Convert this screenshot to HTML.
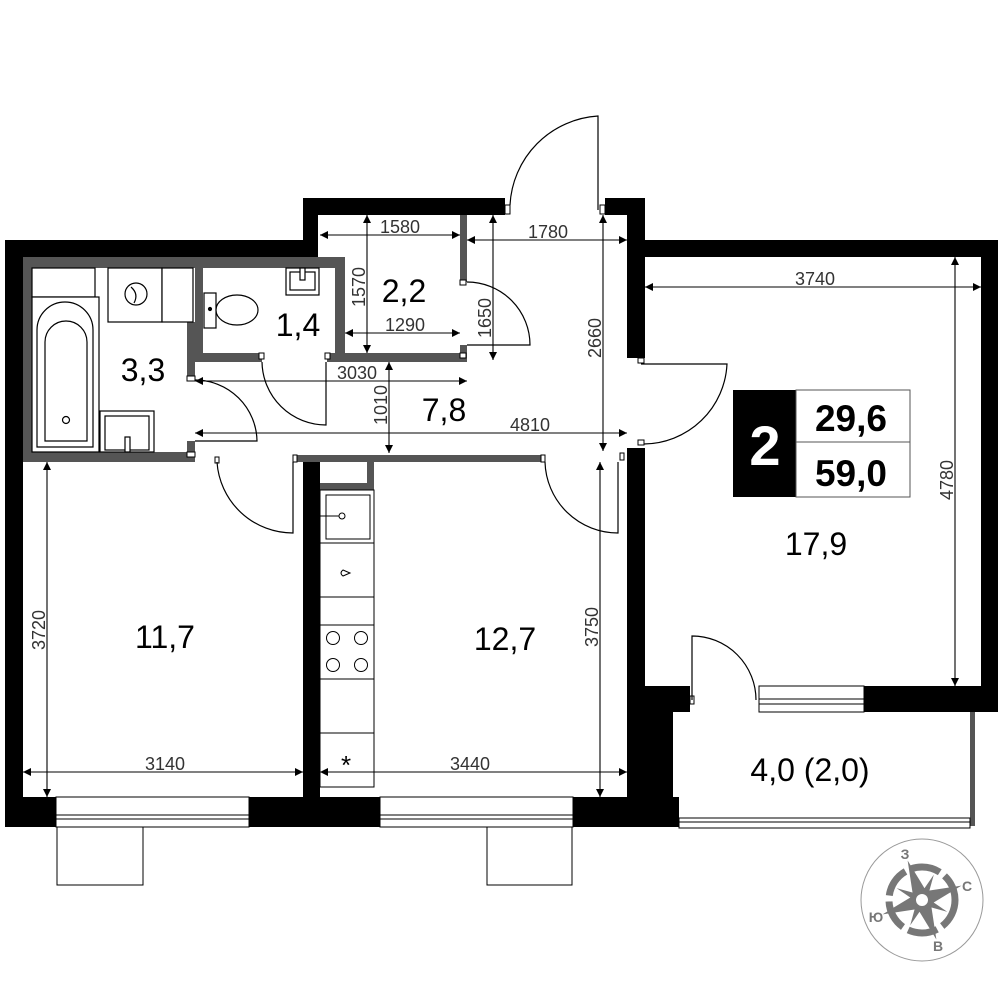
<!DOCTYPE html>
<html><head><meta charset="utf-8"><style>
html,body{margin:0;padding:0;background:#fff;}
svg{display:block;}
text{font-family:"Liberation Sans","DejaVu Sans",sans-serif;}
</style></head><body>
<svg width="1000" height="1000" viewBox="0 0 1000 1000" xmlns="http://www.w3.org/2000/svg">
<defs>
<marker id="a" viewBox="0 0 10 10" refX="10" refY="5" markerWidth="16" markerHeight="8" markerUnits="userSpaceOnUse" orient="auto-start-reverse"><path d="M0,0 L10,5 L0,10 z" fill="#000"/></marker>
</defs>
<rect width="1000" height="1000" fill="#fff"/>

<g fill="#000">
<rect x="5" y="240" width="313" height="17"/>
<rect x="5" y="240" width="18" height="587"/>
<rect x="303" y="198" width="15" height="59"/>
<rect x="303" y="198" width="202" height="17"/>
<rect x="605" y="198" width="40" height="17"/>
<rect x="627" y="198" width="18" height="160"/>
<rect x="627" y="240" width="371" height="17"/>
<rect x="981" y="240" width="17" height="472"/>
<rect x="627" y="448" width="18" height="379"/>
<rect x="644" y="686" width="46" height="26"/>
<rect x="644" y="686" width="29" height="141"/>
<rect x="864" y="686" width="134" height="26"/>
<rect x="5" y="797" width="51" height="30"/>
<rect x="249" y="797" width="131" height="30"/>
<rect x="573" y="797" width="106" height="30"/>
<rect x="303" y="461" width="17" height="366"/>
</g>

<g fill="#555">
<rect x="23" y="257" width="322" height="11"/>
<rect x="23" y="257" width="10" height="205"/>
<rect x="23" y="452" width="172" height="10"/>
<rect x="195" y="257" width="8" height="105"/>
<rect x="187" y="322" width="16" height="40"/>
<rect x="187" y="362" width="8" height="18"/>
<rect x="187" y="441" width="8" height="12"/>
<rect x="203" y="353" width="59" height="9"/>
<rect x="327" y="353" width="140" height="9"/>
<rect x="335" y="257" width="10" height="105"/>
<rect x="460" y="215" width="7" height="67"/>
<rect x="460" y="345" width="7" height="10"/>
<rect x="297" y="455" width="246" height="7"/>
<rect x="367" y="462" width="7" height="28"/>
<rect x="320" y="483" width="54" height="7"/>
<rect x="970" y="712" width="5" height="114"/>
</g>

<g fill="#fff" stroke="#000" stroke-width="1">
<rect x="187" y="376" width="8" height="5"/>
<rect x="187" y="452" width="8" height="5"/>
<rect x="259" y="353" width="5" height="6"/>
<rect x="325" y="353" width="5" height="6"/>
<rect x="460" y="280" width="6" height="5"/>
<rect x="460" y="353" width="6" height="5"/>
<rect x="215" y="457" width="4" height="6"/>
<rect x="293" y="455" width="4" height="7"/>
<rect x="541" y="455" width="4" height="7"/>
<rect x="620" y="453" width="4" height="7"/>
<rect x="505" y="205" width="5" height="9"/>
<rect x="600" y="205" width="5" height="9"/>
<rect x="638" y="358" width="6" height="5"/>
<rect x="638" y="440" width="6" height="5"/>
<rect x="690" y="696" width="4" height="8"/>
</g>

<g fill="none" stroke="#000" stroke-width="1.2">
<path d="M598,210 L598,116 A94,94 0 0 0 510,205"/>
<path d="M326,362 L326,425 A64,64 0 0 1 262,362"/>
<path d="M195,380 A62,62 0 0 1 257,441 L195,441"/>
<path d="M467,282 A63,63 0 0 1 530,345 L467,345"/>
<path d="M641,364 L727,364 A84,84 0 0 1 644,444"/>
<path d="M217,462 A76,76 0 0 0 293,533 L293,462"/>
<path d="M545,462 A73,73 0 0 0 618,533 L618,462"/>
<path d="M692,700 L692,636 A64,64 0 0 1 756,700"/>
</g>

<g fill="#fff" stroke="#000" stroke-width="1">
<rect x="56" y="797" width="193" height="30"/>
<line x1="56" y1="815" x2="249" y2="815"/><line x1="56" y1="819" x2="249" y2="819"/>
<rect x="380" y="797" width="193" height="30"/>
<line x1="380" y1="815" x2="573" y2="815"/><line x1="380" y1="819" x2="573" y2="819"/>
<rect x="759" y="686" width="105" height="26"/>
<line x1="759" y1="699" x2="864" y2="699"/><line x1="759" y1="704" x2="864" y2="704"/>
<rect x="679" y="818" width="291" height="10"/>
<line x1="679" y1="822" x2="970" y2="822"/>
<rect x="57" y="827" width="86" height="58"/>
<rect x="487" y="827" width="85" height="58"/>
</g>

<g fill="#fff" stroke="#000" stroke-width="1.2">
<rect x="32" y="268" width="63" height="29"/>
<rect x="108" y="268" width="54" height="54"/>
<circle cx="136" cy="294" r="11"/>
<path d="M131,287 Q139,294 134,303"/>
<rect x="162" y="268" width="31" height="54"/>
<rect x="32" y="297" width="67" height="155"/>
<path d="M37,447 L37,330 A28,28 0 0 1 93,330 L93,447 Z"/>
<path d="M45,441 L45,342 A21,21 0 0 1 87,342 L87,441 Z"/>
<circle cx="66" cy="420" r="3.5"/>
<rect x="100" y="411" width="54" height="41"/>
<rect x="105" y="416" width="44" height="34"/>
<rect x="125" y="437" width="5" height="15"/>
<rect x="204" y="293" width="12" height="35"/>
<ellipse cx="237" cy="310" rx="21" ry="15"/>
<circle cx="210" cy="309" r="1.5" fill="#000"/>
<rect x="286" y="268" width="33" height="27"/>
<rect x="290" y="272" width="25" height="18"/>
<rect x="300" y="268" width="5" height="12"/>
</g>

<g fill="#fff" stroke="#000" stroke-width="1">
<rect x="320" y="490" width="54" height="53"/>
<rect x="326" y="495" width="44" height="44"/>
<line x1="320" y1="516" x2="340" y2="516"/>
<circle cx="342" cy="516" r="3"/>
<rect x="320" y="543" width="54" height="54"/>
<path d="M343,570 L350,573 L343,576 Q339,573 343,570Z"/>
<rect x="320" y="597" width="54" height="28"/>
<rect x="320" y="625" width="54" height="54"/>
<circle cx="333" cy="638" r="6.5"/><circle cx="361" cy="638" r="6.5"/>
<circle cx="333" cy="665" r="6.5"/><circle cx="361" cy="665" r="6.5"/>
<rect x="320" y="679" width="54" height="54"/>
<rect x="320" y="733" width="54" height="54"/>
</g>
<text x="346" y="774" font-size="26" text-anchor="middle" fill="#000">*</text>

<g stroke="#000" stroke-width="1.1" fill="none">
<line x1="320" y1="235" x2="460" y2="235" marker-start="url(#a)" marker-end="url(#a)"/>
<line x1="367" y1="215" x2="367" y2="353" marker-start="url(#a)" marker-end="url(#a)"/>
<line x1="345" y1="333" x2="460" y2="333" marker-start="url(#a)" marker-end="url(#a)"/>
<line x1="195" y1="381" x2="467" y2="381" marker-start="url(#a)" marker-end="url(#a)"/>
<line x1="389" y1="362" x2="389" y2="453" marker-start="url(#a)" marker-end="url(#a)"/>
<line x1="195" y1="433" x2="627" y2="433" marker-start="url(#a)" marker-end="url(#a)"/>
<line x1="467" y1="240" x2="627" y2="240" marker-start="url(#a)" marker-end="url(#a)"/>
<line x1="493" y1="215" x2="493" y2="360" marker-start="url(#a)" marker-end="url(#a)"/>
<line x1="603" y1="215" x2="603" y2="451" marker-start="url(#a)" marker-end="url(#a)"/>
<line x1="645" y1="287" x2="981" y2="287" marker-start="url(#a)" marker-end="url(#a)"/>
<line x1="955" y1="257" x2="955" y2="686" marker-start="url(#a)" marker-end="url(#a)"/>
<line x1="47" y1="462" x2="47" y2="797" marker-start="url(#a)" marker-end="url(#a)"/>
<line x1="23" y1="772" x2="303" y2="772" marker-start="url(#a)" marker-end="url(#a)"/>
<line x1="320" y1="772" x2="627" y2="772" marker-start="url(#a)" marker-end="url(#a)"/>
<line x1="600" y1="462" x2="600" y2="797" marker-start="url(#a)" marker-end="url(#a)"/>
</g>
<g fill="#333" font-size="18" text-anchor="middle">
<text x="400" y="233">1580</text>
<text x="405" y="331">1290</text>
<text x="357" y="379">3030</text>
<text x="530" y="431">4810</text>
<text x="548" y="238">1780</text>
<text x="815" y="285">3740</text>
<text x="165" y="770">3140</text>
<text x="470" y="770">3440</text>
<text transform="translate(365,287) rotate(-90)">1570</text>
<text transform="translate(387,405) rotate(-90)">1010</text>
<text transform="translate(491,318) rotate(-90)">1650</text>
<text transform="translate(601,338) rotate(-90)">2660</text>
<text transform="translate(953,480) rotate(-90)">4780</text>
<text transform="translate(45,630) rotate(-90)">3720</text>
<text transform="translate(598,627) rotate(-90)">3750</text>
</g>

<g fill="#000" font-size="32" text-anchor="middle">
<text x="143" y="381">3,3</text>
<text x="298" y="336">1,4</text>
<text x="404" y="302">2,2</text>
<text x="444" y="421">7,8</text>
<text x="165" y="648">11,7</text>
<text x="505" y="650">12,7</text>
<text x="816" y="555">17,9</text>
<text x="810" y="781">4,0 (2,0)</text>
</g>

<rect x="733" y="390" width="63" height="107" fill="#000"/>
<rect x="796" y="390" width="114" height="52" fill="#fff" stroke="#555" stroke-width="1"/>
<rect x="796" y="442" width="114" height="55" fill="#fff" stroke="#555" stroke-width="1"/>
<text x="765" y="465" font-size="56" font-weight="bold" fill="#fff" text-anchor="middle">2</text>
<text x="851" y="431" font-size="37" font-weight="bold" text-anchor="middle">29,6</text>
<text x="851" y="486" font-size="37" font-weight="bold" text-anchor="middle">59,0</text>

<g>
<circle cx="922" cy="900" r="61" fill="#fff" stroke="#999" stroke-width="1"/>
<circle cx="922" cy="900" r="33" fill="none" stroke="#777" stroke-width="7" stroke-dasharray="30 6"/>
<g transform="rotate(-20 922 900)" fill="#777">
<polygon points="922,858 929,893 922,900 915,893"/>
<polygon points="922,942 915,907 922,900 929,907"/>
<polygon points="880,900 915,893 922,900 915,907"/>
<polygon points="964,900 929,907 922,900 929,893"/>
<g transform="rotate(45 922 900)">
<polygon points="922,872 926,896 918,896"/>
<polygon points="922,928 918,904 926,904"/>
<polygon points="894,900 918,896 918,904"/>
<polygon points="950,900 926,904 926,896"/>
</g>
</g>
<circle cx="922" cy="900" r="8" fill="#fff" stroke="#777" stroke-width="4"/>
<g fill="#777" font-size="14" font-weight="bold" text-anchor="middle">
<text x="905" y="859">З</text>
<text x="967" y="891">С</text>
<text x="876" y="922">Ю</text>
<text x="938" y="951">В</text>
</g>
</g>
</svg>
</body></html>
